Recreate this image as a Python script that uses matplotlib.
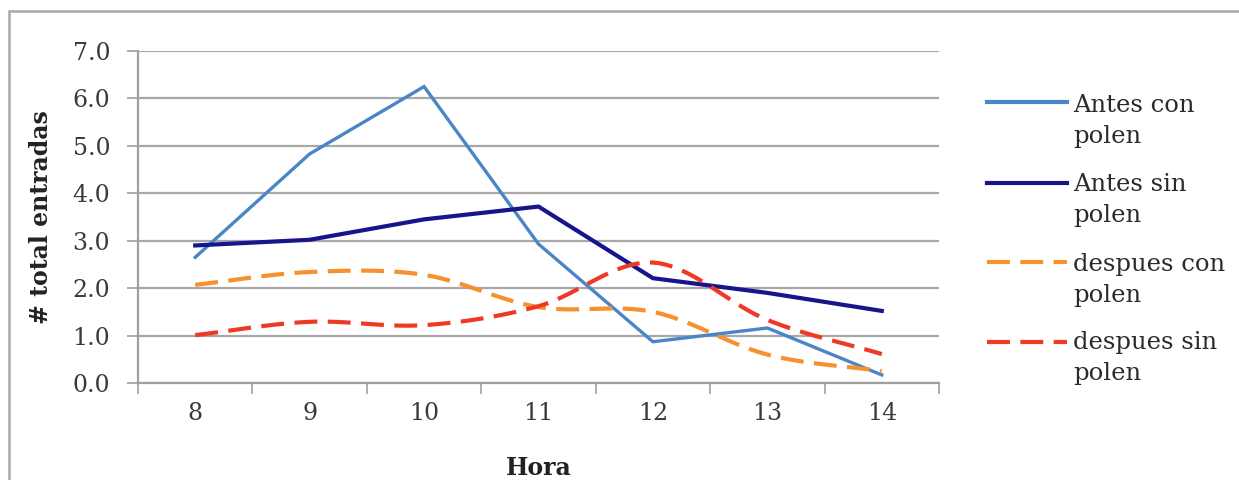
import numpy as np
import matplotlib
matplotlib.use("Agg")
import matplotlib.pyplot as plt
from matplotlib.lines import Line2D
from matplotlib.patches import Rectangle

plt.rcParams['font.family'] = ['DejaVu Serif']

horas = [8, 9, 10, 11, 12, 13, 14]
antes_con_polen = [2.65, 4.83, 6.25, 2.93, 0.87, 1.16, 0.17]
antes_sin_polen = [2.90, 3.02, 3.45, 3.72, 2.21, 1.90, 1.52]
despues_con_polen = [2.07, 2.34, 2.28, 1.60, 1.50, 0.60, 0.25]
despues_sin_polen = [1.01, 1.29, 1.22, 1.62, 2.54, 1.33, 0.61]

series = [
    ("Antes con\npolen", antes_con_polen, "#4a86c5", "-", 2.4),
    ("Antes sin\npolen", antes_sin_polen, "#17148c", "-", 3.0),
    ("despues con\npolen", despues_con_polen, "#f7902e", "--", 3.0),
    ("despues sin\npolen", despues_sin_polen, "#ee3a25", "--", 3.0),
]


def smooth(x, y, n=20):
    # catmull-rom curve through the points, like the spreadsheet "smoothed line"
    x = np.asarray(x, float)
    y = np.asarray(y, float)
    px = np.concatenate([[2 * x[0] - x[1]], x, [2 * x[-1] - x[-2]]])
    py = np.concatenate([[2 * y[0] - y[1]], y, [2 * y[-1] - y[-2]]])
    t = np.linspace(0, 1, n, endpoint=False)
    xs, ys = [], []
    for i in range(1, len(px) - 2):
        for p, out in ((px, xs), (py, ys)):
            p0, p1, p2, p3 = p[i - 1], p[i], p[i + 1], p[i + 2]
            out.extend(0.5 * ((2 * p1) + (-p0 + p2) * t
                              + (2 * p0 - 5 * p1 + 4 * p2 - p3) * t ** 2
                              + (-p0 + 3 * p1 - 3 * p2 + p3) * t ** 3))
    xs.append(x[-1])
    ys.append(y[-1])
    return np.array(xs), np.array(ys)


W, H = 1239, 480
fig = plt.figure(figsize=(W / 100, H / 100), dpi=100)
ax = fig.add_axes([138 / W, 1 - 383 / H, (939 - 138) / W, (383 - 51) / H])

pos = np.arange(len(horas))
for label, vals, color, ls, lw in series:
    if ls == "--":
        xs, ys = smooth(pos, vals)
        ax.plot(xs, ys, color=color, lw=lw, ls=ls, dashes=(5.5, 2.5),
                dash_capstyle="butt", zorder=3)
    else:
        ax.plot(pos, vals, color=color, lw=lw, solid_joinstyle="miter", zorder=3)

ax.set_xlim(-0.5, len(horas) - 0.5)
ax.set_ylim(0, 7)
yt = np.arange(0, 7.5, 1.0)
ax.set_yticks(yt)
ax.set_yticklabels([f"{v:.1f}" for v in yt])
ax.set_xticks(np.arange(-0.5, len(horas), 1.0))
ax.set_xticklabels([])
ax.set_xticks(pos, minor=True)
ax.set_xticklabels([str(h) for h in horas], minor=True)
ax.tick_params(axis="x", which="minor", length=0, pad=14, labelsize=17, colors="#3a3a3a")
ax.tick_params(axis="x", which="major", length=8, width=1.2, color="#a0a0a0", direction="out")
ax.tick_params(axis="y", length=8, width=1.2, color="#a0a0a0", labelsize=17, pad=12,
               labelcolor="#3a3a3a")
ax.grid(axis="y", color="#a8a8a8", lw=1.6)
ax.set_axisbelow(True)
for s in ("top", "right"):
    ax.spines[s].set_visible(False)
for s in ("left", "bottom"):
    ax.spines[s].set_color("#a0a0a0")
    ax.spines[s].set_linewidth(1.6)

ax.set_ylabel("# total entradas", fontsize=17, fontweight="bold", color="#222222", labelpad=14)
ax.set_xlabel("Hora", fontsize=17, fontweight="bold", color="#222222", labelpad=22)

# legend drawn by hand so the key sits on the first text line
handle_y = [102, 183, 262, 342]
text_y = [108, 187, 267, 345]
for (label, vals, color, ls, lw), hy, ty in zip(series, handle_y, text_y):
    fig.add_artist(Line2D([987 / W, 1067 / W], [1 - hy / H, 1 - hy / H], color=color,
                          lw=3.0, ls=ls,
                          dashes=(5.5, 2.5) if ls == "--" else (None, None),
                          dash_capstyle="butt"))
    fig.text(1073 / W, 1 - (ty - 14) / H, label, fontsize=17.5, color="#2a2a2a",
             va="top", ha="left", linespacing=1.42)

fig.add_artist(Rectangle((9 / W, -0.1), 1.2, 1 - 11 / H + 0.1, transform=fig.transFigure,
                         fill=False, edgecolor="#a8a8a8", lw=1.8))

fig.savefig("out.png", dpi=100)
